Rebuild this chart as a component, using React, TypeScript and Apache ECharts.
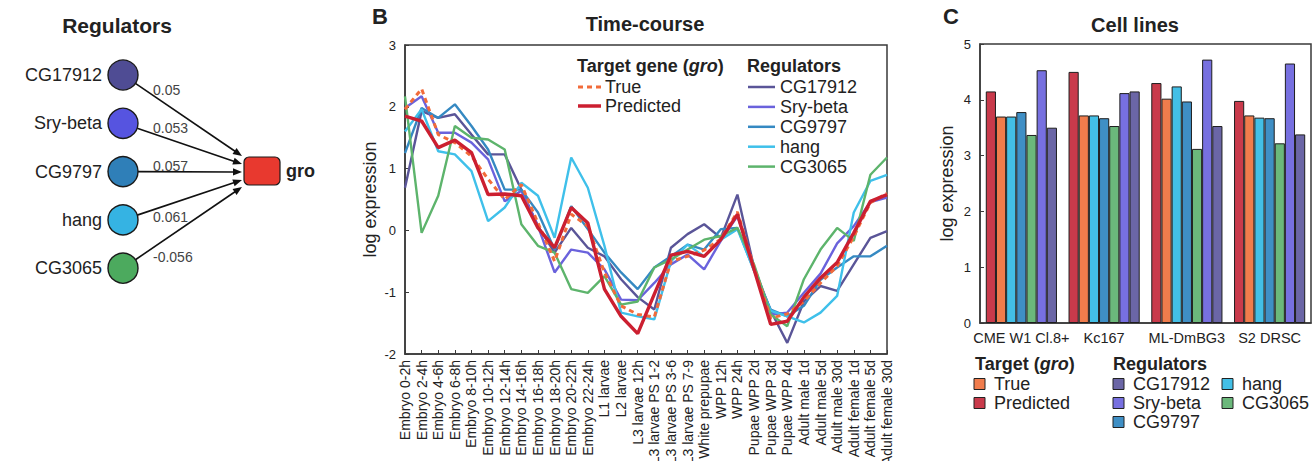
import React, { useEffect, useRef } from "react";
import * as echarts from "echarts";

// ---------- data ----------
const stages = [
  "Embryo 0-2h", "Embryo 2-4h", "Embryo 4-6h", "Embryo 6-8h", "Embryo 8-10h",
  "Embryo 10-12h", "Embryo 12-14h", "Embryo 14-16h", "Embryo 16-18h", "Embryo 18-20h",
  "Embryo 20-22h", "Embryo 22-24h", "L1 larvae", "L2 larvae", "L3 larvae 12h",
  "L3 larvae PS 1-2", "L3 larvae PS 3-6", "L3 larvae PS 7-9", "White prepupae", "WPP 12h",
  "WPP 24h", "Pupae WPP 2d", "Pupae WPP 3d", "Pupae WPP 4d", "Adult male 1d",
  "Adult male 5d", "Adult male 30d", "Adult female 1d", "Adult female 5d", "Adult female 30d",
];

const tcTrue = [1.96, 2.29, 1.55, 1.42, 1.2, 0.83, 0.5, 0.74, 0.12, -0.5, 0.26, 0.07, -0.68, -1.22, -1.36, -1.4, -0.5, -0.42, -0.32, -0.14, 0.3, -0.6, -1.42, -1.35, -1.15, -0.85, -0.58, -0.1, 0.45, 0.6];
const tcPredicted = [1.85, 1.77, 1.34, 1.46, 1.26, 0.58, 0.59, 0.56, 0.04, -0.28, 0.37, 0.12, -0.95, -1.39, -1.67, -1.03, -0.4, -0.34, -0.42, -0.15, 0.26, -0.63, -1.52, -1.47, -1.08, -0.77, -0.52, -0.04, 0.47, 0.58];
const tcCG17912 = [0.69, 1.93, 1.82, 1.88, 1.55, 1.23, 1.23, 0.66, 0.07, -0.36, 0.04, -0.28, -0.42, -0.79, -1.08, -1.28, -0.28, -0.06, 0.1, -0.12, 0.58, -0.6, -1.3, -1.82, -1.15, -0.9, -0.98, -0.55, -0.12, -0.01];
const tcSryBeta = [1.98, 2.17, 1.58, 1.58, 1.42, 1.15, 0.47, 0.64, 0.07, -0.68, -0.31, -0.36, -0.63, -1.12, -1.13, -0.85, -0.55, -0.39, -0.63, -0.17, 0.23, -0.58, -1.36, -1.33, -1.01, -0.7, -0.21, 0.07, 0.46, 0.53];
const tcCG9797 = [1.25, 1.98, 1.82, 2.04, 1.69, 1.31, 0.66, 0.66, 0.29, -0.31, 0.39, 0.02, -0.36, -0.68, -0.95, -0.6, -0.42, -0.23, -0.31, 0.02, 0.04, -0.65, -1.28, -1.39, -1.22, -0.8, -0.6, -0.42, -0.42, -0.25];
const tcHang = [1.6, 1.96, 1.28, 1.23, 0.96, 0.15, 0.37, 0.77, 0.56, -0.12, 1.18, 0.69, -0.25, -1.33, -1.39, -1.44, -0.5, -0.23, -0.42, -0.15, 0.02, -0.65, -1.3, -1.39, -1.49, -1.33, -1.06, 0.29, 0.8, 0.9];
const tcCG3065 = [2.17, -0.04, 0.56, 1.69, 1.5, 1.47, 1.31, 0.1, -0.25, -0.36, -0.95, -1.01, -0.74, -1.2, -1.15, -0.6, -0.47, -0.31, -0.15, -0.09, 0.04, -0.55, -1.36, -1.55, -0.79, -0.31, 0.04, -0.17, 0.9, 1.18];

const tcTicks = [-2, -1, 0, 1, 2, 3];

const cellLines = ["CME W1 Cl.8+", "Kc167", "ML-DmBG3", "S2 DRSC"];
const clPredicted = [4.15, 4.5, 4.3, 3.98];
const clTrue = [3.7, 3.72, 4.02, 3.72];
const clHang = [3.7, 3.72, 4.24, 3.68];
const clCG9797 = [3.78, 3.67, 3.97, 3.67];
const clCG3065 = [3.37, 3.53, 3.12, 3.22];
const clSryBeta = [4.53, 4.12, 4.72, 4.65];
const clCG17912 = [3.5, 4.15, 3.53, 3.38];

const clTicks = [0, 1, 2, 3, 4, 5];

const regulators = ["CG17912", "Sry-beta", "CG9797", "hang", "CG3065"];
const edgeWeights = [0.05, 0.053, 0.057, 0.061, -0.056];
const targetGene = "gro";

// ---------- styling ----------
const FONT = "'Liberation Sans', Arial, Helvetica, sans-serif";
const INK = "#222";

const lineColors: Record<string, string> = {
  True: "#f26b3a",
  Predicted: "#cc1f30",
  CG17912: "#5a5598",
  "Sry-beta": "#6a62dc",
  CG9797: "#3589c2",
  hang: "#3fc0ea",
  CG3065: "#5db46c",
};

const barColors: Record<string, string> = {
  True: "#f07c4c",
  Predicted: "#c93a4b",
  CG17912: "#6b66a6",
  "Sry-beta": "#7770e0",
  CG9797: "#3f8fc5",
  hang: "#43bfe6",
  CG3065: "#6bb87b",
};

const nodeColors = ["#4f4c94", "#5654e0", "#2f7fb8", "#35b3e3", "#4caa5e"];

// ---------- regulatory network diagram ----------
function networkGraphics(): any[] {
  const els: any[] = [];
  const nodeX = 123;
  const nodeY0 = 75;
  const nodeStep = 48.3;
  const r = 15;
  const box = { x: 244, y: 157, w: 36, h: 28 };
  const arrowEndY = [156, 164, 172, 180, 187];
  const weightOffsets = [15, 5, -6, -3, -11];

  els.push({
    type: "text",
    style: { text: "Regulators", x: 117, y: 25, font: `bold 21px ${FONT}`, fill: INK, textAlign: "center", textVerticalAlign: "middle" },
  });

  regulators.forEach((name, i) => {
    const cy = nodeY0 + i * nodeStep;
    const ex = box.x - 2;
    const ey = arrowEndY[i];
    const dx = ex - nodeX;
    const dy = ey - cy;
    const len = Math.sqrt(dx * dx + dy * dy);
    const ux = dx / len;
    const uy = dy / len;
    const sx = nodeX + ux * r;
    const sy = cy + uy * r;
    const headLen = 9;
    const headHalf = 3.6;
    const bx = ex - ux * headLen;
    const by = ey - uy * headLen;
    els.push({
      type: "line",
      z: 1,
      shape: { x1: sx, y1: sy, x2: bx + ux * 1, y2: by + uy * 1 },
      style: { stroke: "#111", lineWidth: 1.6 },
    });
    els.push({
      type: "polygon",
      z: 1,
      shape: {
        points: [
          [ex, ey],
          [bx - uy * headHalf, by + ux * headHalf],
          [bx + uy * headHalf, by - ux * headHalf],
        ],
      },
      style: { fill: "#111" },
    });
    els.push({
      type: "circle",
      z: 2,
      shape: { cx: nodeX, cy, r },
      style: { fill: nodeColors[i], stroke: "#1a1a1a", lineWidth: 1.4 },
    });
    els.push({
      type: "text",
      z: 2,
      style: { text: name, x: 102, y: cy, font: `18px ${FONT}`, fill: INK, textAlign: "right", textVerticalAlign: "middle" },
    });
    els.push({
      type: "text",
      z: 3,
      style: { text: String(edgeWeights[i]), x: 153, y: cy + weightOffsets[i], font: `14px ${FONT}`, fill: "#444", textAlign: "left", textVerticalAlign: "middle" },
    });
  });

  els.push({
    type: "rect",
    z: 2,
    shape: { x: box.x, y: box.y, width: box.w, height: box.h, r: 5 },
    style: { fill: "#e8392f", stroke: "#1a1a1a", lineWidth: 1.2 },
  });
  els.push({
    type: "text",
    z: 2,
    style: { text: targetGene, x: box.x + box.w + 6, y: box.y + box.h / 2, font: `bold 18px ${FONT}`, fill: INK, textAlign: "left", textVerticalAlign: "middle" },
  });
  return els;
}

// ---------- legends and panel headings ----------
function headingGraphics(): any[] {
  const els: any[] = [];
  const txt = (text: string, x: number, y: number, font: string, align = "left") => ({
    type: "text",
    style: { text, x, y, font, fill: INK, textAlign: align, textVerticalAlign: "middle" },
  });
  els.push(txt("B", 372, 16, `bold 22px ${FONT}`));
  els.push(txt("C", 943, 16, `bold 22px ${FONT}`));
  els.push(txt("Time-course", 645, 24, `bold 20px ${FONT}`, "center"));
  els.push(txt("Cell lines", 1135, 25, `bold 20px ${FONT}`, "center"));

  // time-course legend
  els.push({
    type: "text",
    style: {
      text: "{b|Target gene (}{i|gro}{b|)}",
      x: 577,
      y: 66,
      textVerticalAlign: "middle",
      rich: {
        b: { font: `bold 18px ${FONT}`, fill: INK },
        i: { font: `italic bold 18px ${FONT}`, fill: INK },
      },
    },
  });
  const targetItems: [string, number, number[] | null, number][] = [
    ["True", 87, [5, 4], 3],
    ["Predicted", 106, null, 3.5],
  ];
  targetItems.forEach(([name, y, dash, w]) => {
    els.push({
      type: "line",
      shape: { x1: 578, y1: y, x2: 601, y2: y },
      style: { stroke: lineColors[name], lineWidth: w, lineDash: dash || undefined },
    });
    els.push(txt(name, 605, y, `18px ${FONT}`));
  });
  els.push(txt("Regulators", 747, 66, `bold 18px ${FONT}`));
  regulators.forEach((name, i) => {
    const y = 87 + i * 19.9;
    els.push({
      type: "line",
      shape: { x1: 748, y1: y, x2: 775, y2: y },
      style: { stroke: lineColors[name], lineWidth: 2.5 },
    });
    els.push(txt(name, 780, y, `18px ${FONT}`));
  });

  // cell-line legend
  els.push({
    type: "text",
    style: {
      text: "{b|Target (}{i|gro}{b|)}",
      x: 975,
      y: 364,
      textVerticalAlign: "middle",
      rich: {
        b: { font: `bold 18px ${FONT}`, fill: INK },
        i: { font: `italic bold 18px ${FONT}`, fill: INK },
      },
    },
  });
  const square = (name: string, x: number, y: number) => {
    els.push({
      type: "rect",
      shape: { x, y: y - 5.5, width: 11, height: 11 },
      style: { fill: barColors[name], stroke: "#222", lineWidth: 1 },
    });
    els.push(txt(name, x + 20, y, `18px ${FONT}`));
  };
  square("True", 974, 384);
  square("Predicted", 974, 403);
  els.push(txt("Regulators", 1113, 364, `bold 18px ${FONT}`));
  square("CG17912", 1113, 384);
  square("Sry-beta", 1113, 403);
  square("CG9797", 1113, 422);
  square("hang", 1222, 384);
  square("CG3065", 1222, 403);
  return els;
}

function buildOption(): any {
  const lineSeries = (name: string, data: number[], extra: any = {}) => ({
    type: "line",
    name,
    xAxisIndex: 0,
    yAxisIndex: 0,
    data,
    symbol: "none",
    lineStyle: { color: lineColors[name], width: 2.4, ...(extra.lineStyle || {}) },
    itemStyle: { color: lineColors[name] },
    z: extra.z || 2,
  });

  const barSeries = (name: string, data: number[]) => ({
    type: "bar",
    name,
    xAxisIndex: 1,
    yAxisIndex: 1,
    data,
    barGap: "0%",
    barCategoryGap: "14%",
    itemStyle: { color: barColors[name], borderColor: "#1e1e1e", borderWidth: 1 },
  });

  const axisLine = { show: true, onZero: false, lineStyle: { color: "#3a3a3a", width: 1.5 } };

  return {
    animation: false,
    backgroundColor: "#ffffff",
    textStyle: { fontFamily: FONT },
    grid: [
      { left: 405, top: 45, width: 482, height: 309, containLabel: false, outerBoundsMode: "none", show: true, borderColor: "#3a3a3a", borderWidth: 1.5, backgroundColor: "transparent" },
      { left: 980, top: 44, width: 331, height: 279, containLabel: false, outerBoundsMode: "none", show: true, borderColor: "#3a3a3a", borderWidth: 1.5, backgroundColor: "transparent" },
    ],
    xAxis: [
      {
        type: "category",
        gridIndex: 0,
        data: stages,
        boundaryGap: false,
        axisLine,
        axisTick: { show: true, inside: true, length: 4, alignWithLabel: true, lineStyle: { color: "#3a3a3a" } },
        axisLabel: { interval: 0, rotate: 90, fontSize: 14, color: "#222", margin: 6, fontFamily: FONT },
        splitLine: { show: false },
      },
      {
        type: "category",
        gridIndex: 1,
        data: cellLines,
        axisLine,
        axisTick: { show: false },
        axisLabel: { interval: 0, fontSize: 14.5, color: "#222", margin: 7, fontFamily: FONT },
        splitLine: { show: false },
      },
    ],
    yAxis: [
      {
        type: "value",
        gridIndex: 0,
        min: tcTicks[0],
        max: tcTicks[tcTicks.length - 1],
        interval: 1,
        axisLine,
        axisTick: { show: true, inside: true, length: 4, lineStyle: { color: "#3a3a3a" } },
        axisLabel: { fontSize: 13, color: "#222", margin: 9, fontFamily: FONT },
        splitLine: { show: false },
        name: "log expression",
        nameLocation: "middle",
        nameGap: 26,
        nameRotate: 90,
        nameTextStyle: { fontSize: 18, color: "#222", fontFamily: FONT },
      },
      {
        type: "value",
        gridIndex: 1,
        min: clTicks[0],
        max: clTicks[clTicks.length - 1],
        interval: 1,
        axisLine,
        axisTick: { show: true, inside: true, length: 4, lineStyle: { color: "#3a3a3a" } },
        axisLabel: { fontSize: 13, color: "#222", margin: 9, fontFamily: FONT },
        splitLine: { show: false },
        name: "log expression",
        nameLocation: "middle",
        nameGap: 24,
        nameRotate: 90,
        nameTextStyle: { fontSize: 18, color: "#222", fontFamily: FONT },
      },
    ],
    series: [
      lineSeries("CG17912", tcCG17912),
      lineSeries("Sry-beta", tcSryBeta),
      lineSeries("CG9797", tcCG9797),
      lineSeries("hang", tcHang),
      lineSeries("CG3065", tcCG3065),
      lineSeries("True", tcTrue, { lineStyle: { width: 3, type: [5, 4] }, z: 3 }),
      lineSeries("Predicted", tcPredicted, { lineStyle: { width: 3.4 }, z: 4 }),
      barSeries("Predicted", clPredicted),
      barSeries("True", clTrue),
      barSeries("hang", clHang),
      barSeries("CG9797", clCG9797),
      barSeries("CG3065", clCG3065),
      barSeries("Sry-beta", clSryBeta),
      barSeries("CG17912", clCG17912),
    ],
    graphic: [...networkGraphics(), ...headingGraphics()],
  };
}

export default function App() {
  const ref = useRef<HTMLDivElement>(null);
  useEffect(() => {
    if (!ref.current) return;
    const chart = echarts.init(ref.current, undefined, { renderer: "svg" });
    chart.setOption(buildOption());
    return () => chart.dispose();
  }, []);
  return (
    <div
      ref={ref}
      style={{ position: "fixed", left: 0, top: 0, width: 1314, height: 461, background: "#fff" }}
    />
  );
}
